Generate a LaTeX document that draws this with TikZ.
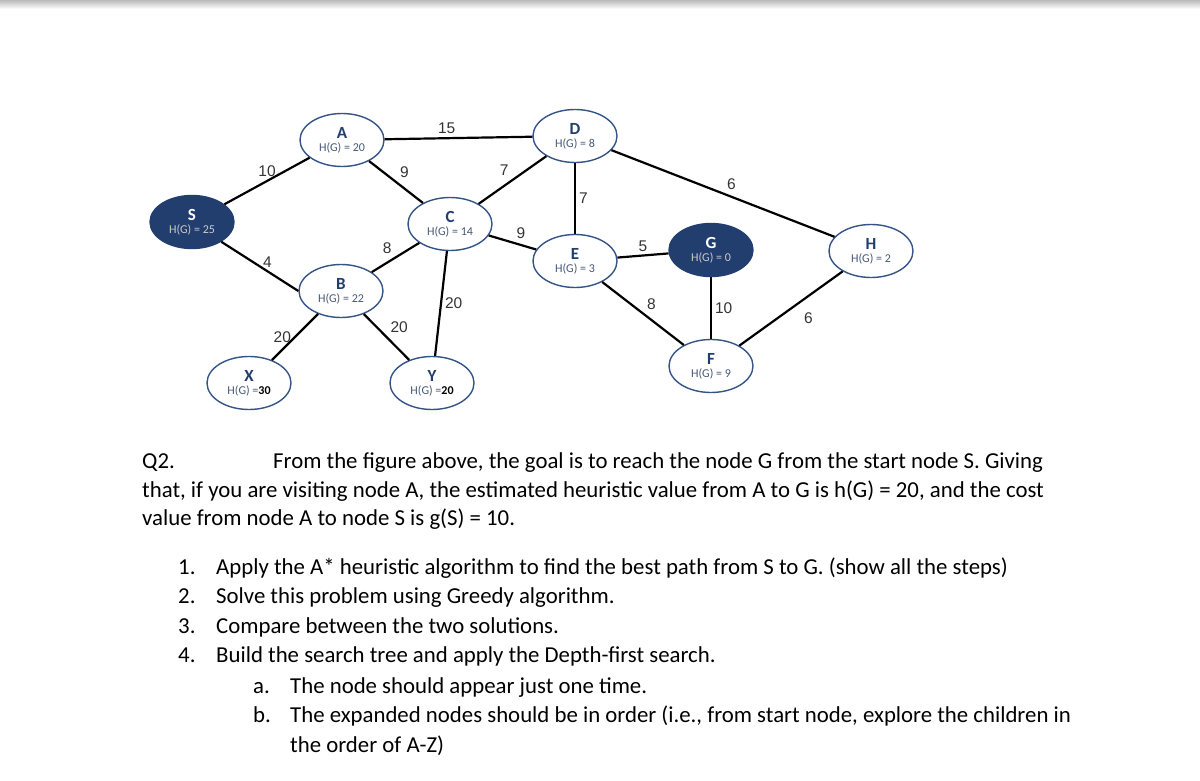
\documentclass[tikz,border=0pt]{standalone}
\usepackage{fontspec}
\setmainfont{Carlito}
\newfontfamily\numfont{Liberation Sans}
\usetikzlibrary{shapes.geometric}
\definecolor{navy}{RGB}{33,62,110}
\definecolor{rim}{RGB}{52,84,134}
\tikzset{
  state/.style = {ellipse,draw=rim,line width=1.4pt,fill=white,minimum width=84pt,minimum height=53pt,
                  inner sep=0pt,align=center,text=navy},
  goal/.style  = {state,fill=navy,draw=navy,text=white},
  lbl/.style   = {font=\numfont\fontsize{15.5}{15.5}\selectfont,text=black!80,inner sep=3pt},
  txt/.style   = {font=\fontsize{22.8}{26}\selectfont,anchor=base west,inner sep=0pt}
}
\newcommand{\hval}[2]{{\fontsize{17}{17}\selectfont\bfseries #1}\\[1pt]{\fontsize{12}{12}\selectfont\color{.!60!gray}H(G) = #2}}
\newcommand{\hodd}[2]{{\fontsize{17}{17}\selectfont\bfseries #1}\\[1pt]{\fontsize{12}{12}\selectfont\color{.!60!gray}H(G) =\textbf{\color{black}#2}}}

\begin{document}
\begin{tikzpicture}[x=1pt,y=-1pt]
    \useasboundingbox (0,0) rectangle (1200,781);
    \shade [top color=gray!55,bottom color=white] (0,0) rectangle (1200,9);
    \node [goal]  (S) at (192,222) {\hval{S}{25}};
    \node [state] (A) at (342,140) {\hval{A}{20}};
    \node [state] (B) at (341,291) {\hval{B}{22}};
    \node [state] (C) at (450,224) {\hval{C}{14}};
    \node [state] (D) at (575,136) {\hval{D}{8}};
    \node [state] (E) at (575,261) {\hval{E}{3}};
    \node [goal]  (G) at (711,250) {\hval{G}{0}};
    \node [state] (H) at (871,251) {\hval{H}{2}};
    \node [state] (F) at (711,366) {\hval{F}{9}};
    \node [state] (X) at (249,383) {\hodd{X}{30}};
    \node [state] (Y) at (432,383) {\hodd{Y}{20}};
    \foreach \a/\b/\w/\p in {S/A/10/above,S.-34/B.180/4/{above,pos=.6},A/D/15/{above,pos=.42},A/C/9/above right,
                             B/C/8/above left,C/D/7/above left,C/E/9/above right,D/E/7/right,
                             D/H/6/above right,E/G/5/above,E/F/8/above right,G/F/10/right,
                             H/F/6/{below right,xshift=9pt},C/Y/20/right,B/Y/20/above right,B/X/20/left}
    {
        \tikzset{lp/.style/.expanded={\p}}
        \draw [line width=2.2pt] (\a) -- (\b) node [lbl,midway,lp] {\w};
    }
    \node [txt] (q)  at (142,468) {Q2.};
    \node [txt] (l1) at (273,468) {From the figure above, the goal is to reach the node G from the start node S. Giving};
    \node [txt] (l2) at (142,497) {that, if you are visiting node A, the estimated heuristic value from A to G is h(G) = 20, and the cost};
    \node [txt] (l3) at (142,525) {value from node A to node S is g(S) = 10.};
    \foreach \n/\y/\t in {1/574/{Apply the A* heuristic algorithm to find the best path from S to G. (show all the steps)},
                          2/603/{Solve this problem using Greedy algorithm.},
                          3/633/{Compare between the two solutions.},
                          4/662/{Build the search tree and apply the Depth-first search.}}
    {
        \node [txt] (n\n) at (178,\y) {\n.};
        \node [txt] (i\n) at (216,\y) {\t};
    }
    \foreach \n/\y/\t in {a/693/{The node should appear just one time.},
                          b/722/{The expanded nodes should be in order (i.e., from start node, explore the children in}}
    {
        \node [txt] (n\n) at (253,\y) {\n.};
        \node [txt] (i\n) at (290,\y) {\t};
    }
    \node [txt] (ib2) at (290,752) {the order of A-Z)};
\end{tikzpicture}
\end{document}
